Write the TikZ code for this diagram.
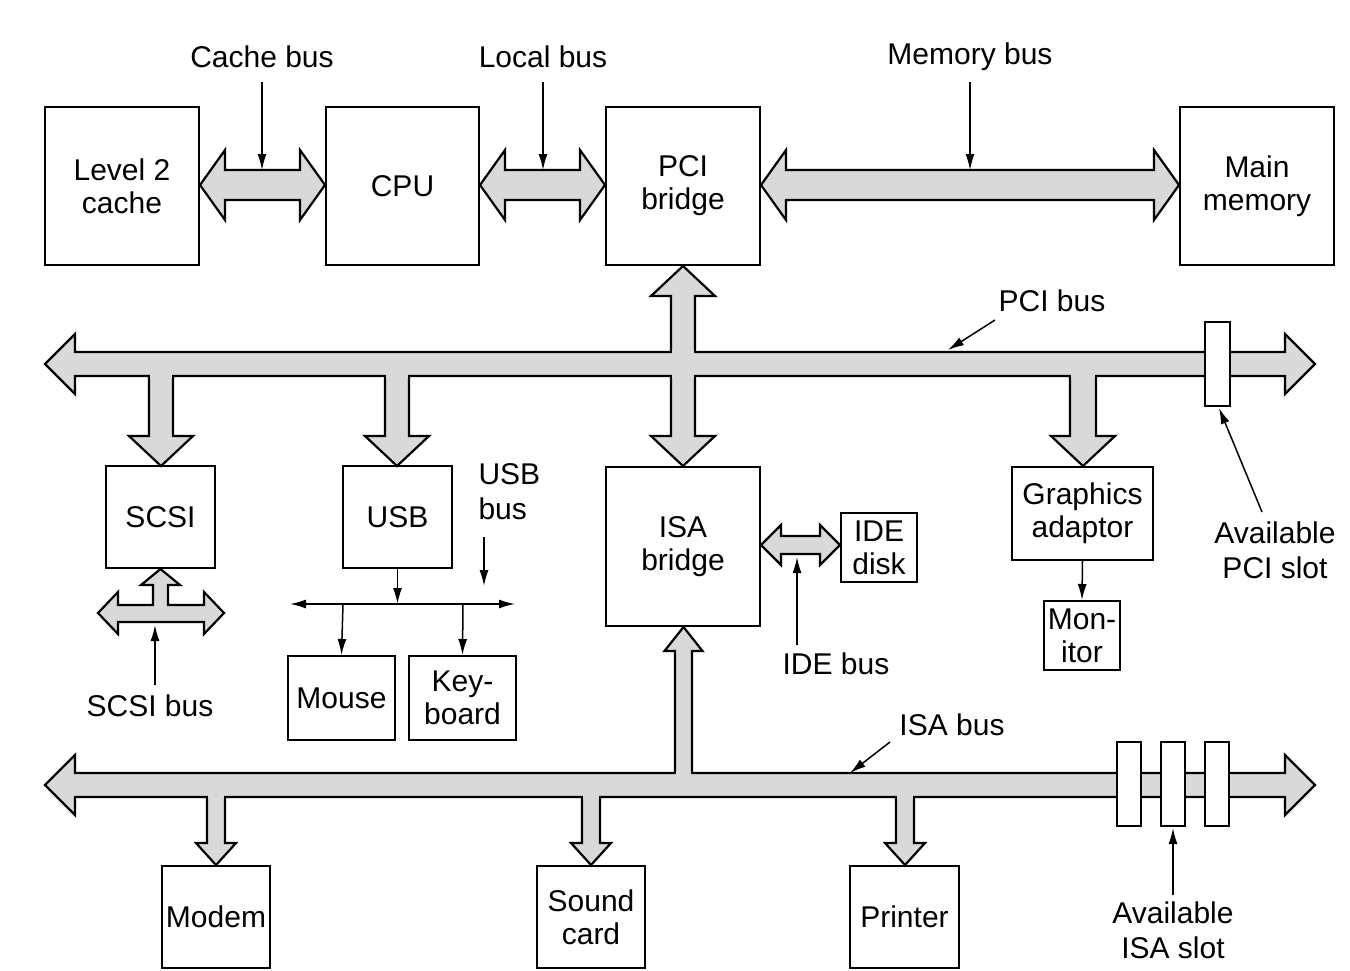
\documentclass[tikz,border=0pt]{standalone}
\usepackage{fontspec}
\setmainfont{Liberation Sans}
\usetikzlibrary{arrows.meta}
\begin{document}
\newcommand{\hbus}[6]{\filldraw[bus] (#1,#3) -- ({#1+#6},{#3-#5}) -- ({#1+#6},{#3-#4}) -- ({#2-#6},{#3-#4}) -- ({#2-#6},{#3-#5}) -- (#2,#3) -- ({#2-#6},{#3+#5}) -- ({#2-#6},{#3+#4}) -- ({#1+#6},{#3+#4}) -- ({#1+#6},{#3+#5}) -- cycle;}
% vertical arrow from y1 (open end) to tip y2; L signed (negative for upward)
\newcommand{\vbus}[6]{\filldraw[bus] ({#1-#4},#2) -- ({#1-#4},{#3-#6}) -- ({#1-#5},{#3-#6}) -- (#1,#3) -- ({#1+#5},{#3-#6}) -- ({#1+#4},{#3-#6}) -- ({#1+#4},#2);
\fill[gray!30] ({#1-#4+1},{#2-2.2}) rectangle ({#1+#4-1},{#2+2.2});}
\begin{tikzpicture}[x=1pt,y=-1pt,
  bus/.style={fill=gray!30,draw=black,line width=2.2pt,line join=miter},
  box/.style={draw,line width=2pt,minimum width=#1,align=center,inner sep=0pt,font=\fontsize{30}{33}\selectfont},
  lab/.style={align=center,font=\fontsize{30}{35}\selectfont},
  thin/.style={line width=1.5pt,-{Latex[length=16pt,width=9pt]}}]
\useasboundingbox (0,0) rectangle (1350,970);
% boxes
\node[box=154pt,minimum height=158pt] (l2) at (122,186) {Level 2\\cache};
\node[box=153pt,minimum height=158pt] (cpu) at (402.5,186) {CPU};
\node[box=154pt,minimum height=158pt] (pci) at (683,186) {PCI\\bridge};
\node[box=154pt,minimum height=158pt] (mem) at (1257,186) {Main\\memory};
\node[box=109pt,minimum height=102pt] (scsi) at (160.5,517) {SCSI};
\node[box=109pt,minimum height=102pt] (usb) at (397.5,517) {USB};
\node[box=154pt,minimum height=159pt] (isa) at (683,546.5) {ISA\\bridge};
\node[box=76pt,minimum height=69pt] (ide) at (879,547.5) {IDE\\disk};
\node[box=141pt,minimum height=93pt] (gfx) at (1082.5,513.5) {Graphics\\adaptor};
\node[box=76pt,minimum height=69pt] (mon) at (1082,635.5) {Mon-\\itor};
\node[box=107pt,minimum height=84pt] (mouse) at (341.5,698) {Mouse};
\node[box=107pt,minimum height=84pt] (kb) at (462.5,698) {Key-\\board};
\node[box=108pt,minimum height=102pt] (modem) at (216,917) {Modem};
\node[box=108pt,minimum height=102pt] (sound) at (591,917) {Sound\\card};
\node[box=109pt,minimum height=102pt] (printer) at (904.5,917) {Printer};
% top buses
\hbus{200}{325}{185}{15}{35}{25}
\hbus{480}{605}{185}{15}{35}{25}
\hbus{761}{1179}{185}{15}{35}{25}
% PCI bus
\hbus{45}{1315}{364}{12}{30}{30}
\vbus{683}{352}{266}{12}{32}{-30}
\vbus{683}{376}{466}{12}{32}{30}
\vbus{161}{376}{466}{12}{32}{30}
\vbus{397}{376}{466}{12}{32}{30}
\vbus{1083}{376}{466}{13}{32}{30}
% PCI slot
\filldraw[fill=white,line width=2pt] (1205,322) rectangle (1230,406);
% ISA bus
\hbus{45}{1315}{785}{12}{30}{30}
\vbus{683.5}{773}{627}{8.5}{19}{-24}
\vbus{216}{797}{865}{9}{20}{22}
\vbus{591}{797}{865}{9}{20}{22}
\vbus{905}{797}{865}{9}{20}{22}
\foreach \x in {1117,1161,1205}
  \filldraw[fill=white,line width=2pt] (\x,742) rectangle (\x+24,826);
% IDE bus
\hbus{761}{840}{545}{9}{20}{20}
% SCSI bus
\filldraw[bus] (98,613) -- (118,592) -- (118,605) -- (153,605) -- (153,585) -- (141,585) -- (160.5,569) -- (180,585) -- (168,585) -- (168,605) -- (204,605) -- (204,592) -- (224,613) -- (204,634) -- (204,622) -- (118,622) -- (118,634) -- cycle;
% USB tree
\coordinate (uj) at (397.5,604);
\coordinate (ul) at (290,604);
\coordinate (ur) at (515,604);
\draw[thin] (usb.south) -- (uj);
\draw[line width=1.5pt,{Latex[length=16pt,width=9pt]}-{Latex[length=16pt,width=9pt]}] (ul) -- (ur);
\draw[thin] (343,604) -- (mouse.north);
\draw[thin] (463,604) -- (kb.north);
\draw[thin] (gfx.south) -- (mon.north);
% labels
\node[lab] (lc) at (262,57) {Cache bus};
\node[lab] (ll) at (543,57) {Local bus};
\node[lab] (lm) at (970,57) {Memory bus};
\node[lab] (lp) at (1052,301) {PCI bus};
\node[lab] (li) at (952,725) {ISA bus};
\node[lab] (lps) at (1275,550) {Available\\PCI slot};
\node[lab] (lis) at (1173,930) {Available\\ISA slot};
\node[lab] (lide) at (836,664) {IDE bus};
\node[lab] (lscsi) at (150,706) {SCSI bus};
\node[lab,align=left,anchor=north west] (lusb) at (475,460) {USB\\bus};
\draw[thin] (262,82) -- (262,170);
\draw[thin] (543,82) -- (543,170);
\draw[thin] (970,82) -- (970,170);
\draw[thin] (995,320) -- (948,350);
\draw[thin] (1262,512) -- (1219,408);
\draw[thin] (890,742) -- (850,773);
\draw[thin] (1173,895) -- (1173,828);
\draw[thin] (797,645) -- (797,557);
\draw[thin] (155,685) -- (155,625);
\draw[thin] (484,537) -- (484,586);
\end{tikzpicture}
\end{document}
